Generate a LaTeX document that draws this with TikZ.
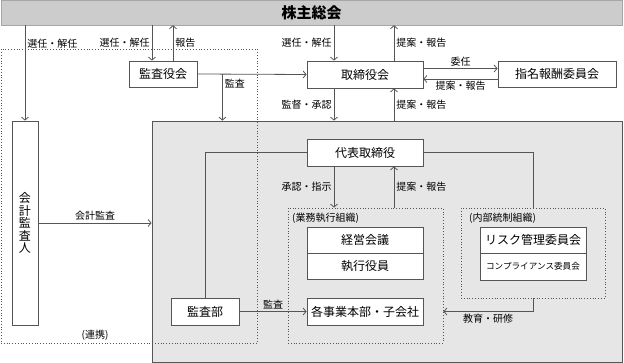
\documentclass[tikz,border=0pt]{standalone}
\usepackage{fontspec}
\setmainfont{Noto Sans CJK JP}
\usetikzlibrary{arrows.meta}

\definecolor{linegray}{HTML}{555555}
\definecolor{bargray}{HTML}{CCCCCC}
\definecolor{areagray}{HTML}{E6E6E6}

\tikzset{
  box/.style={draw=linegray, fill=white, line width=0.8pt, inner sep=0pt,
    font=\fontsize{12}{12.5}\selectfont},
  dotbox/.style={draw=linegray, dotted, line width=0.8pt, inner sep=0pt},
  arr/.style={draw=linegray, line width=0.8pt, -{Straight Barb[length=3pt,width=7pt]}},
  conn/.style={draw=linegray, line width=0.8pt},
  lbl/.style={font=\fontsize{10}{10}\selectfont, inner sep=2pt},
}

\begin{document}
\begin{tikzpicture}[x=1pt,y=-1pt]
  \useasboundingbox (0,0) rectangle (624,363);

  \node[draw=gray!70, fill=bargray, minimum width=621pt, minimum height=25pt, inner sep=0pt,
    font=\fontsize{15}{15}\selectfont\bfseries] (soukai) at (311.5,12.5) {株主総会};

  % areas
  \node[draw=linegray, fill=areagray, line width=0.8pt, minimum width=470pt, minimum height=241pt] (group) at (387,241.5) {};
  \node[dotbox, minimum width=256pt, minimum height=294pt] (renkei) at (129,196) {};
  \node[dotbox, minimum width=155pt, minimum height=135pt] (gyomu) at (365.5,275.5) {};
  \node[dotbox, minimum width=144pt, minimum height=90pt] (naibu) at (533,253) {};

  \node[lbl, anchor=west] (gyomulabel) at (290,218) {(業務執行組織)};
  \node[lbl, anchor=west] (naibulabel) at (467,218) {(内部統制組織)};
  \node[lbl] (renkeilabel) at (95,335) {(連携)};

  % boxes
  \node[box, minimum width=68pt, minimum height=26pt] (kansayaku) at (163,74) {監査役会};
  \node[box, minimum width=116pt, minimum height=27pt] (torishimari) at (365,74.5) {取締役会};
  \node[box, minimum width=118pt, minimum height=26pt] (shimei) at (557,74) {指名報酬委員会};
  \node[box, minimum width=26pt, minimum height=204pt, align=center] (kaikei) at (25,223) {会\\計\\監\\査\\人};
  \node[box, minimum width=116pt, minimum height=27pt] (daihyo) at (365,152.5) {代表取締役};
  \node[box, minimum width=116pt, minimum height=26pt] (keiei) at (365,240) {経営会議};
  \node[box, minimum width=116pt, minimum height=26pt] (yakuin) at (365,266) {執行役員};
  \node[box, minimum width=116pt, minimum height=27pt] (jigyo) at (365,311.5) {各事業本部・子会社};
  \node[box, minimum width=106pt, minimum height=26pt] (risk) at (533,240) {リスク管理委員会};
  \node[box, minimum width=106pt, minimum height=27pt, font=\fontsize{8.6}{9}\selectfont] (compliance) at (533,266.5) {コンプライアンス委員会};
  \node[box, minimum width=68pt, minimum height=27pt] (kansabu) at (205,311.5) {監査部};

  % connectors
  \draw[arr] (kaikei.north |- soukai.south) -- node[lbl, pos=0.19, right] {選任・解任} (kaikei.north);
  \draw[arr] ([xshift=-11pt]kansayaku.north |- soukai.south) -- node[lbl, left] {選任・解任} ([xshift=-11pt]kansayaku.north);
  \draw[arr] ([xshift=10pt]kansayaku.north) -- node[lbl, right] {報告} ([xshift=10pt]kansayaku.north |- soukai.south);

  \draw[arr] (kansayaku.east) -- (torishimari.west);
  \coordinate (kansabranch) at ([xshift=25pt]kansayaku.east);
  \draw[arr] (kansabranch) -- node[lbl, pos=0.2, right] {監査} (kansabranch |- group.north);

  \foreach \upper/\lower/\xref/\downtext/\uptext in {
      soukai/torishimari/torishimari/選任・解任/提案・報告,
      torishimari/group/torishimari/監督・承認/提案・報告,
      daihyo/gyomu/daihyo/承認・指示/提案・報告} {
    \draw[arr] ([xshift=-31pt]\xref.center |- \upper.south) -- node[lbl, left] {\downtext} ([xshift=-31pt]\xref.center |- \lower.north);
    \draw[arr] ([xshift=29pt]\xref.center |- \lower.north) -- node[lbl, right] {\uptext} ([xshift=29pt]\xref.center |- \upper.south);
  }

  \draw[arr] ([yshift=6pt]torishimari.east) -- node[lbl, above] {委任} ([yshift=6pt]torishimari.east -| shimei.west);
  \draw[arr] ([yshift=-5pt]shimei.west) -- node[lbl, below] {提案・報告} ([yshift=-5pt]shimei.west -| torishimari.east);

  \draw[conn] (daihyo.west) -| (kansabu.north);
  \draw[conn] (daihyo.east) -| (naibu.north);
  \draw[arr] (kansabu.east) -- node[lbl, above] {監査} (jigyo.west);
  \draw[arr] (naibu.south) |- node[lbl, pos=0.75, below] {教育・研修} (gyomu.east |- jigyo.east);
  \draw[arr] (kaikei.east) -- node[lbl, above] {会計監査} (kaikei.east -| group.west);
\end{tikzpicture}
\end{document}
